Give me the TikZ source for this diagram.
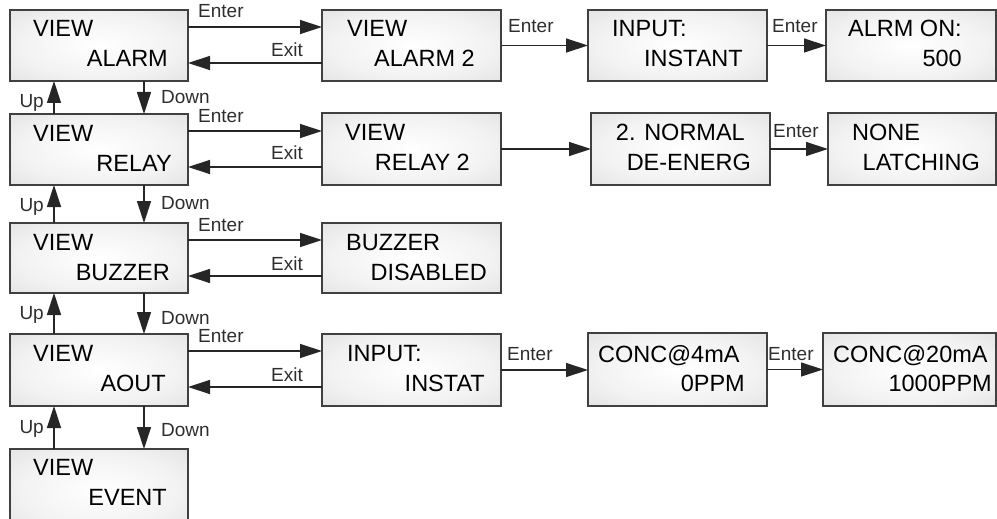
\documentclass[tikz,border=0pt]{standalone}
\usepackage{fontspec}
\setmainfont{Liberation Sans}
\usetikzlibrary{arrows.meta,fit}

% soft radial fill of the menu panels
\pgfdeclareradialshading{panelshade}{\pgfpoint{0bp}{0bp}}{%
  color(0bp)=(white); color(22bp)=(black!5); color(50bp)=(black!16); color(72bp)=(black!21)}

\tikzset{
  panel/.style={draw=black!75, line width=1.5pt, shading=panelshade,
    inner sep=0pt, outer sep=0pt},
  ptext/.style={inner sep=0pt, text=black,
    font=\fontsize{23.5}{28}\selectfont},
  ltext/.style={inner sep=0pt, text=black!82,
    font=\fontsize{19}{22}\selectfont},
  arr/.style={draw=black!85, line width=1.3pt,
    -{Triangle[length=22pt,width=14pt]}},
}

\begin{document}
\begin{tikzpicture}[x=1pt,y=-1pt]
\useasboundingbox (0,0) rectangle (997,519);
\clip (0,0) rectangle (997,519);

% ---- panels ----
\node[panel, fit={(10,10)(188,81)}]    (a1) {};
\node[panel, fit={(322,10)(501,81)}]   (a2) {};
\node[panel, fit={(588,10)(767,81)}]   (a3) {};
\node[panel, fit={(826,10)(996,81)}]   (a4) {};
\node[panel, fit={(10,114)(188,185)}]  (r1) {};
\node[panel, fit={(322,113)(501,185)}] (r2) {};
\node[panel, fit={(591,113)(770,185)}] (r3) {};
\node[panel, fit={(828,113)(996,185)}] (r4) {};
\node[panel, fit={(10,223)(188,293)}]  (b1) {};
\node[panel, fit={(322,223)(501,293)}] (b2) {};
\node[panel, fit={(10,334)(188,406)}]  (o1) {};
\node[panel, fit={(322,334)(501,406)}] (o2) {};
\node[panel, fit={(588,333)(767,406)}] (o3) {};
\node[panel, fit={(823,333)(996,406)}] (o4) {};
\node[panel, fit={(10,449)(188,532)}]  (e1) {};

% ---- panel texts ----
\node[ptext, anchor=base west] (a1x) at (33,37)  {VIEW};
\node[ptext, anchor=base east] (a1y) at (168,67) {ALARM};
\node[ptext, anchor=base west] (a2x) at (347,37) {VIEW};
\node[ptext, anchor=base east] (a2y) at (475,67) {ALARM 2};
\node[ptext, anchor=base west] (a3x) at (612,37) {INPUT:};
\node[ptext, anchor=base east] (a3y) at (743,67) {INSTANT};
\node[ptext, anchor=base west] (a4x) at (848,37) {ALRM ON:};
\node[ptext, anchor=base east] (a4y) at (962,67) {500};

\node[ptext, anchor=base west] (r1x) at (33,141)  {VIEW};
\node[ptext, anchor=base east] (r1y) at (172,171) {RELAY};
\node[ptext, anchor=base west] (r2x) at (345,140) {VIEW};
\node[ptext, anchor=base east] (r2y) at (470,170) {RELAY 2};
\node[ptext, anchor=base east] (r3x) at (745,140) {2. NORMAL};
\node[ptext, anchor=base east] (r3y) at (751,170) {DE-ENERG};
\node[ptext, anchor=base west] (r4x) at (852,140) {NONE};
\node[ptext, anchor=base east] (r4y) at (980,170) {LATCHING};

\node[ptext, anchor=base west] (b1x) at (33,250)  {VIEW};
\node[ptext, anchor=base east] (b1y) at (170,280) {BUZZER};
\node[ptext, anchor=base west] (b2x) at (346,250) {BUZZER};
\node[ptext, anchor=base east] (b2y) at (487,280) {DISABLED};

\node[ptext, anchor=base west] (o1x) at (33,361)  {VIEW};
\node[ptext, anchor=base east] (o1y) at (166,391) {AOUT};
\node[ptext, anchor=base west] (o2x) at (347,361) {INPUT:};
\node[ptext, anchor=base east] (o2y) at (485,391) {INSTAT};
\node[ptext, anchor=base west] (o3x) at (598,362) {CONC@4mA};
\node[ptext, anchor=base east] (o3y) at (745,391) {0PPM};
\node[ptext, anchor=base west] (o4x) at (833,362) {CONC@20mA};
\node[ptext, anchor=base east] (o4y) at (992,391) {1000PPM};

\node[ptext, anchor=base west] (e1x) at (33,475)  {VIEW};
\node[ptext, anchor=base east] (e1y) at (167,505) {EVENT};

% ---- Enter / Exit between the first two columns ----
\foreach \m/\s in {a1/a2, r1/r2, b1/b2, o1/o2}{
  \coordinate (\m en) at ([yshift=-17pt]\m.north east);
  \coordinate (\m ex) at ([yshift=-53pt]\m.north east);
  \draw[arr] (\m en) -- (\m en -| \s.west);
  \draw[arr] (\m ex -| \s.west) -- (\m ex);
  \node[ltext, anchor=base west] (\m enl) at ([xshift=10pt,yshift=-8pt]\m.north east) {Enter};
  \node[ltext, anchor=base east] (\m exl) at ([xshift=-19pt,yshift=-47pt]\s.north west) {Exit};
}

% ---- forward steps to the right ----
\foreach \p/\q in {a2/a3, a3/a4, r2/r3, r3/r4, o2/o3, o3/o4}{
  \draw[arr] (\p.east) -- (\p.east -| \q.west);
}
\node[ltext, anchor=base west] (a2enl) at (508,33)  {Enter};
\node[ltext, anchor=base west] (a3enl) at (772,33)  {Enter};
\node[ltext, anchor=base west] (r3enl) at (773,137) {Enter};
\node[ltext, anchor=base west] (o2enl) at (507,360) {Enter};
\node[ltext, anchor=base west] (o3enl) at (768,360) {Enter};

% ---- Up / Down between the rows ----
\coordinate (upx) at (54,0);
\coordinate (dnx) at (144,0);
\foreach \u/\l/\ub/\db in {a1/r1/108/103, r1/b1/211/209, b1/o1/319/324, o1/e1/433/436}{
  \draw[arr] (\l.north -| upx) -- (\u.south -| upx);
  \draw[arr] (\u.south -| dnx) -- (\l.north -| dnx);
  \node[ltext, anchor=base east] (\u upl) at (44,\ub) {Up};
  \node[ltext, anchor=base west] (\u dnl) at (161,\db) {Down};
}
\end{tikzpicture}
\end{document}
